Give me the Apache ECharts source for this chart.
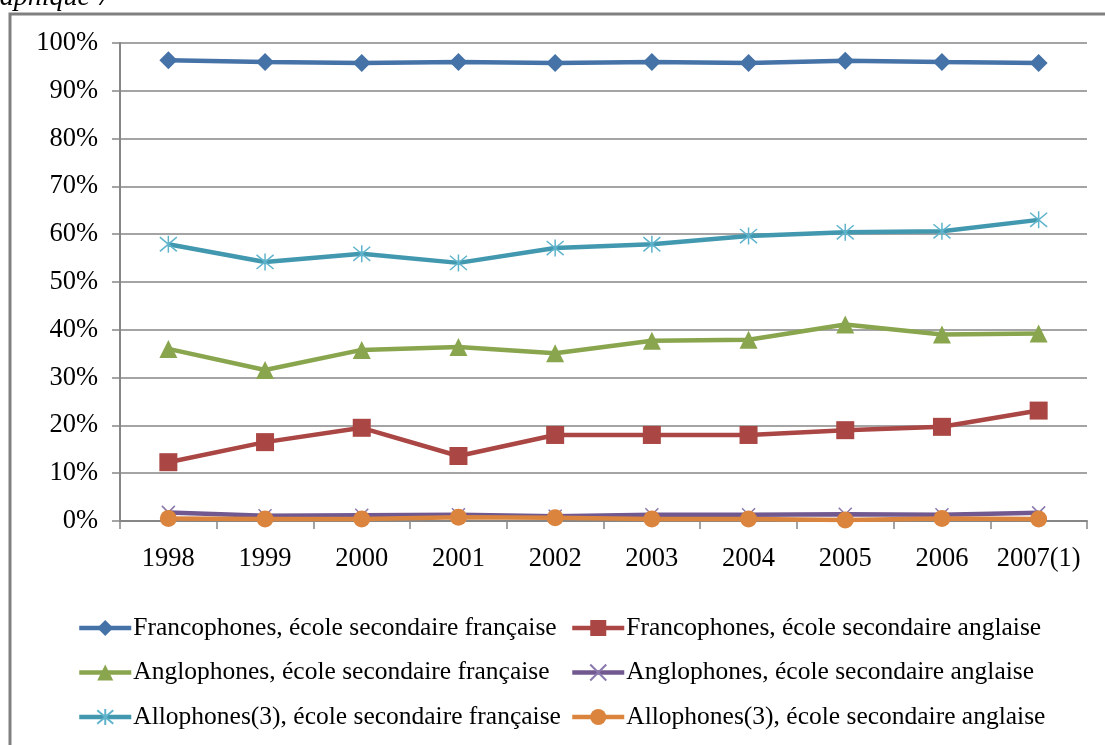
<!DOCTYPE html>
<html>
<head>
<meta charset="utf-8">
<script src="https://cdn.jsdelivr.net/npm/echarts@6/dist/echarts.min.js"></script>
<style>
html,body{margin:0;padding:0;background:#fff;}
#chart{width:1105px;height:745px;}
</style>
</head>
<body>
<div id="chart"></div>
<script>
var years = ['1998','1999','2000','2001','2002','2003','2004','2005','2006','2007(1)'];
var yTicks = [0,10,20,30,40,50,60,70,80,90,100];
var francoFr = [96.4, 96.0, 95.8, 96.0, 95.8, 96.0, 95.8, 96.3, 96.0, 95.8];
var francoAn = [12.3, 16.5, 19.5, 13.6, 18.0, 18.0, 18.0, 19.0, 19.7, 23.1];
var angloFr  = [36.0, 31.6, 35.8, 36.4, 35.1, 37.7, 37.9, 41.1, 39.0, 39.2];
var angloAn  = [1.8, 1.1, 1.2, 1.3, 1.0, 1.3, 1.3, 1.4, 1.3, 1.7];
var alloFr   = [57.9, 54.2, 55.9, 54.0, 57.1, 57.9, 59.6, 60.4, 60.6, 63.0];
var alloAn   = [0.5, 0.4, 0.4, 0.8, 0.7, 0.4, 0.4, 0.2, 0.5, 0.4];
var names = [
  'Francophones, école secondaire française',
  'Francophones, école secondaire anglaise',
  'Anglophones, école secondaire française',
  'Anglophones, école secondaire anglaise',
  'Allophones(3), école secondaire française',
  'Allophones(3), école secondaire anglaise'
];
var FONT = 'Liberation Serif';
var chart = echarts.init(document.getElementById('chart'));

function mk(name, data, color, symbol, size, stroke) {
  return {
    name: name, type: 'line', data: data,
    symbol: symbol, symbolSize: size,
    lineStyle: {color: color, width: 4.5},
    itemStyle: stroke ? {color: color, borderColor: stroke, borderWidth: 1.5}
                      : {color: color, borderColor: color, borderWidth: 0},
    emphasis: {disabled: true}
  };
}
var xPath = 'path://M0,0L10,10M10,0L0,10';
var astPath = 'path://M0,0L10,10M10,0L0,10M5,-1L5,11';

var legendCommon = {
  orient: 'vertical', top: 615, itemGap: 18.5, itemWidth: 52, itemHeight: 20,
  lineStyle: {width: 4.5},
  textStyle: {fontFamily: FONT, fontSize: 25.5, color: '#000', lineHeight: 26, padding: [0,0,0,-3]},
  padding: 0, selectedMode: false
};

chart.setOption({
  animation: false,
  backgroundColor: '#fff',
  grid: {left: 120, right: 18, top: 43, bottom: 224, containLabel: false},
  xAxis: {
    type: 'category', data: years, boundaryGap: true,
    axisLine: {lineStyle: {color: '#868686', width: 2}},
    axisTick: {show: true, length: 8, lineStyle: {color: '#868686', width: 1.5}},
    axisLabel: {fontFamily: FONT, fontSize: 26.5, color: '#000', margin: 25, interval: 0},
    splitLine: {show: false}
  },
  yAxis: {
    type: 'value', min: yTicks[0], max: yTicks[yTicks.length-1], interval: 10,
    axisLine: {show: true, lineStyle: {color: '#868686', width: 2}},
    axisTick: {show: true, length: 8, lineStyle: {color: '#868686', width: 1.5}},
    axisLabel: {fontFamily: FONT, fontSize: 26.5, color: '#000', margin: 22, formatter: '{value}%'},
    splitLine: {show: true, lineStyle: {color: '#868686', width: 1.5}}
  },
  legend: [
    Object.assign({}, legendCommon, {left: 77, data: [names[0], names[2], names[4]]}),
    Object.assign({}, legendCommon, {left: 570, data: [names[1], names[3], names[5]]})
  ],
  graphic: [
    {type: 'rect', shape: {x: 10, y: 14, width: 1120, height: 760}, style: {fill: 'none', stroke: '#808080', lineWidth: 3}, silent: true},
    {type: 'text', x: 111, y: -2, style: {text: 'Graphique 7', font: 'italic 28px "Liberation Serif"', fill: '#000', align: 'right', verticalAlign: 'middle'}, silent: true}
  ],
  series: [
    mk(names[0], francoFr, '#4572A7', 'diamond', 18),
    mk(names[1], francoAn, '#AA4643', 'rect', 18),
    mk(names[2], angloFr, '#89A54E', 'triangle', 18),
    mk(names[3], angloAn, '#71588F', xPath, 13, '#8a78ad'),
    mk(names[4], alloFr, '#4198AF', astPath, 17, '#5fb4cc'),
    mk(names[5], alloAn, '#DB843D', 'circle', 17)
  ]
});
</script>
</body>
</html>
